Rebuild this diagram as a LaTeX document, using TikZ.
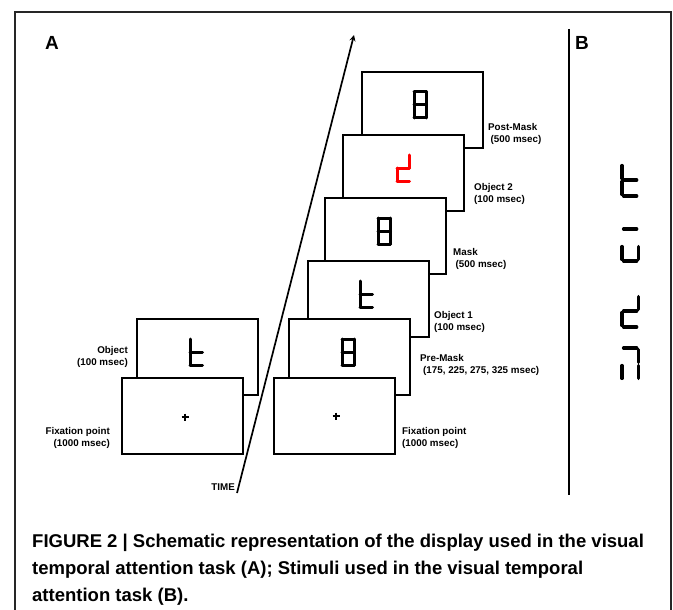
\documentclass[tikz,border=0pt]{standalone}
\usepackage{fontspec}
\setmainfont{Liberation Sans}
\usetikzlibrary{calc}

\tikzset{
  screen/.style={draw, fill=white, line width=2pt, minimum width=121pt,
    minimum height=76pt, inner sep=0pt, anchor=north west},
  lab/.style={font=\bfseries\fontsize{9.8}{12}\selectfont, inner sep=0pt},
  panel/.style={font=\bfseries\fontsize{19}{22}\selectfont, inner sep=0pt, anchor=base west},
  caption/.style={font=\bfseries\fontsize{18.5}{27}\selectfont, inner sep=0pt, anchor=base west},
  seg/.style={line cap=round, line join=round},
  gapseg/.style={xscale=1.3, yscale=1.23, line width=3.4pt, shorten >=1.6pt, shorten <=1.6pt},
  cross/.style={line width=2.2pt},
}

% cifra a sette segmenti: angolo in alto a sinistra, lista dei segmenti
\newcommand{\sevseg}[3][]{%
  \begin{scope}[shift={#2}, xscale=12.5, yscale=13, line width=3pt, #1]
  \foreach \s in {#3}{%
    \if a\s \draw[seg] (0,0) -- (1,0);\fi
    \if b\s \draw[seg] (1,0) -- (1,1);\fi
    \if c\s \draw[seg] (1,1) -- (1,2);\fi
    \if d\s \draw[seg] (0,2) -- (1,2);\fi
    \if e\s \draw[seg] (0,1) -- (0,2);\fi
    \if f\s \draw[seg] (0,0) -- (0,1);\fi
    \if g\s \draw[seg] (0,1) -- (1,1);\fi
  }
  \end{scope}}

\begin{document}
\begin{tikzpicture}[x=1pt, y=-1pt, >=stealth]
\useasboundingbox (0,0) rectangle (673,610);
% cornice
\draw[line width=1.3pt, black!85] (15,610) -- (15,12) -- (671,12) -- (671,610);
\draw[line width=1.6pt] (569,29) -- (569,495);
\node[panel] (pA) at (45,50) {A};
\node[panel] (pB) at (575,50) {B};

% asse del tempo
\coordinate (t0) at (237,493);
\coordinate (t1) at (354,35);
\draw[->, line width=1.7pt] (t0) -- (t1);
\node[lab, anchor=east] (time) at (235,487) {TIME};

% prova a sinistra
\node[screen] (objL) at (136,318) {};
\sevseg{($(objL.north west)+(54,21)$)}{f,e,g,d}
\node[screen] (fixL) at (121,377) {};
\draw[cross] ($(fixL.center)+(2.5,-2.5)$) -- ++(0,7) ($(fixL.center)+(-1,1)$) -- ++(7,0);
\node[lab, anchor=east, align=right] (lobjL) at (128,357) {Object\\(100 msec)};
\node[lab, anchor=east, align=right] (lfixL) at (110,438) {Fixation point\\(1000 msec)};

% sequenza a destra, dal fondo verso il davanti
\node[screen] (post) at (361,71) {};
\sevseg{($(post.north west)+(53,21)$)}{a,b,c,d,e,f,g}
\node[screen] (obj2) at (342,134) {};
\sevseg[red]{($(obj2.north west)+(55,21)$)}{b,g,e,d}
\node[screen] (mask) at (324,197) {};
\sevseg{($(mask.north west)+(54,21)$)}{a,b,c,d,e,f,g}
\node[screen] (obj1) at (307,260) {};
\sevseg{($(obj1.north west)+(53,21)$)}{f,e,g,d}
\node[screen] (pre) at (288,318) {};
\sevseg{($(pre.north west)+(54,21)$)}{a,b,c,d,e,f,g}
\node[screen] (fix) at (273,377) {};
\draw[cross] ($(fix.center)+(1.5,-3.5)$) -- ++(0,7) ($(fix.center)+(-2,0)$) -- ++(7,0);

\node[lab, anchor=west, align=left] (lpost) at (488,133.5) {Post-Mask\\\hspace*{2.5pt}(500 msec)};
\node[lab, anchor=west, align=left] (lobj2) at (474,194) {Object 2\\(100 msec)};
\node[lab, anchor=west, align=left] (lmask) at (453,259) {Mask\\\hspace*{2.5pt}(500 msec)};
\node[lab, anchor=west, align=left] (lobj1) at (434,322) {Object 1\\(100 msec)};
\node[lab, anchor=west, align=left] (lpre) at (420,365) {Pre-Mask\\\hspace*{3pt}(175, 225, 275, 325 msec)};
\node[lab, anchor=west, align=left] (lfix) at (402,437.5) {Fixation point\\(1000 msec)};

% stimoli (B)
\sevseg[gapseg]{(622,164)}{f,e,g,d}
\sevseg[gapseg]{(622,229)}{a,e,d,c}
\sevseg[gapseg]{(622,295)}{b,g,e,d}
\sevseg[gapseg]{(622,348)}{a,b,c,e}

% didascalia
\node[caption] (cap1) at (32,547) {FIGURE 2 | Schematic representation of the display used in the visual};
\node[caption] (cap2) at (32,574) {temporal attention task (A); Stimuli used in the visual temporal};
\node[caption] (cap3) at (32,601) {attention task (B).};
\end{tikzpicture}
\end{document}
